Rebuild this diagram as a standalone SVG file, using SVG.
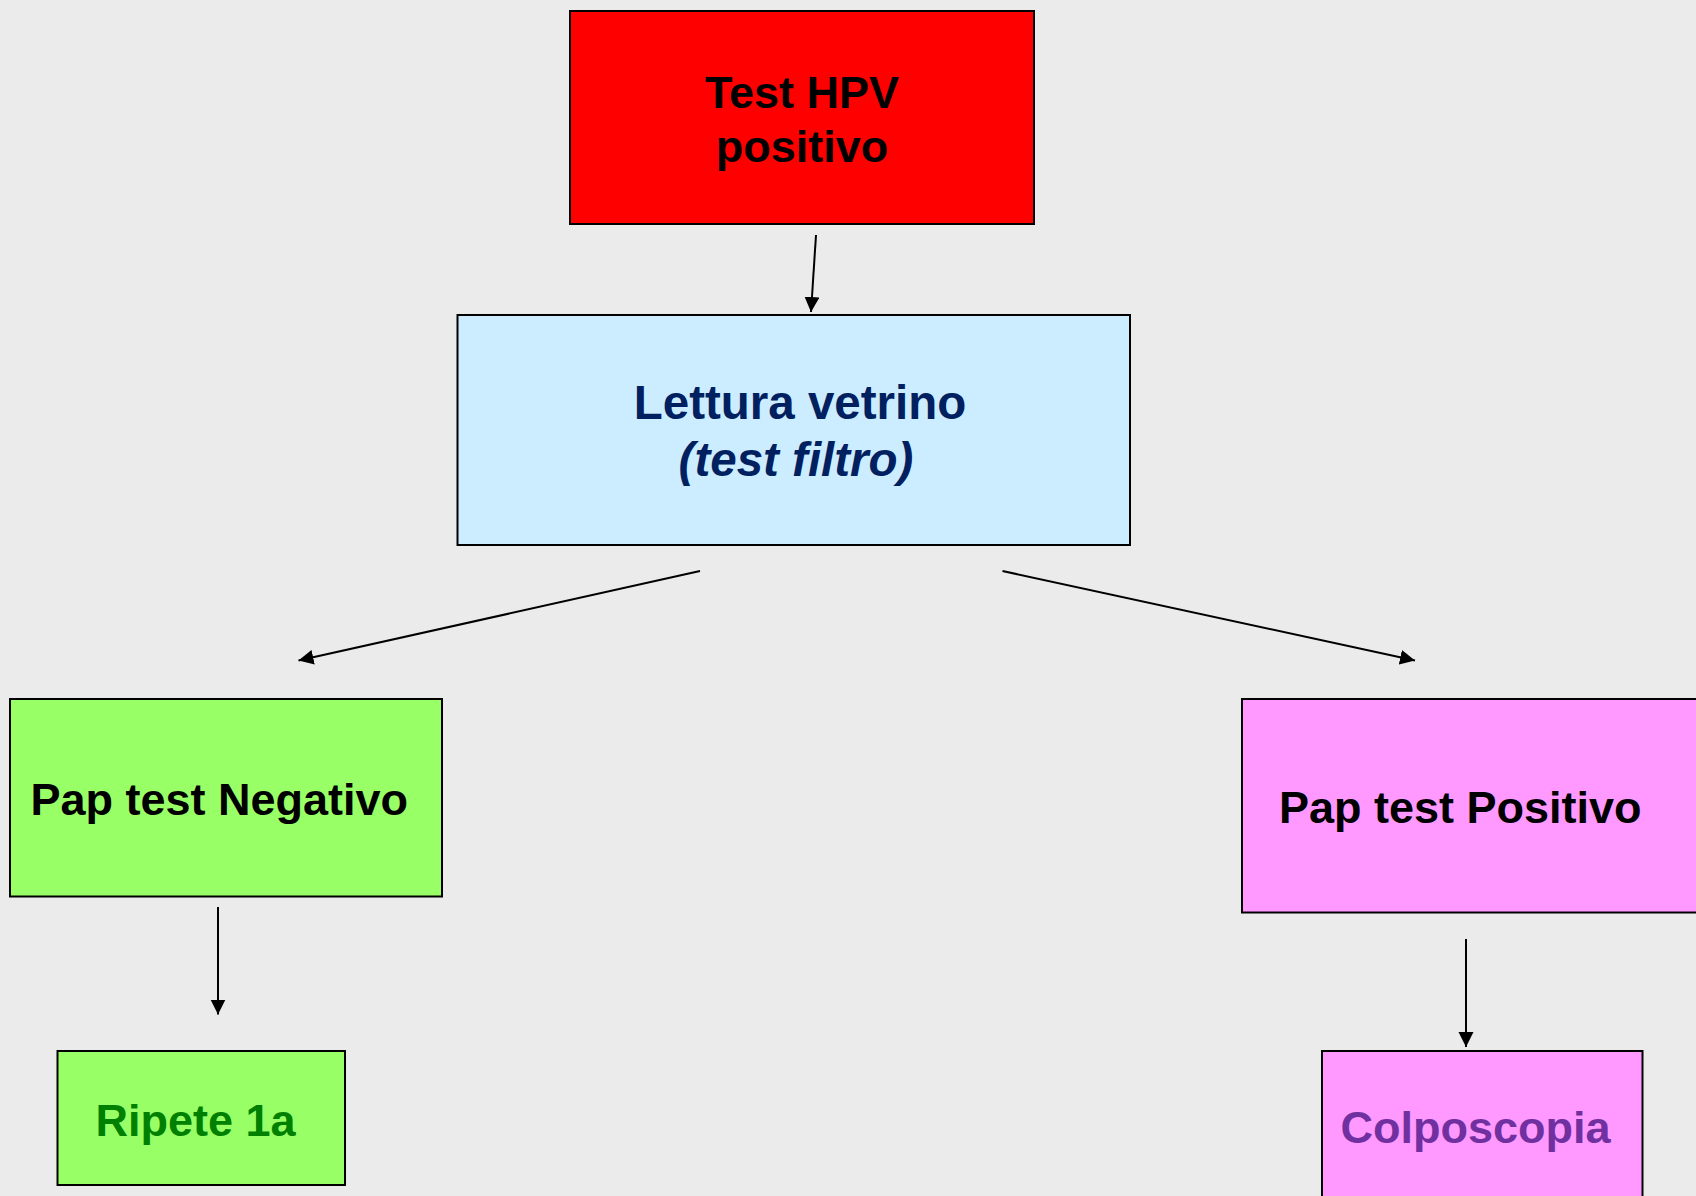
<svg xmlns="http://www.w3.org/2000/svg" width="1696" height="1196" viewBox="0 0 1696 1196">
<style>
.box{stroke:#000;stroke-width:2}
.t{font-family:"Liberation Sans",Arial,sans-serif;font-weight:bold;font-size:45px}
.c{stroke:#000;stroke-width:2;fill:none;marker-end:url(#ah)}
</style>
<defs>
<marker id="ah" markerUnits="userSpaceOnUse" markerWidth="16" markerHeight="16" refX="15" refY="7.5" orient="auto">
<path d="M0,0 L15,7.5 L0,15 z" fill="#000"/>
</marker>
</defs>
<rect width="1696" height="1196" fill="#EBEBEB"/>
<g id="connectors">
<line class="c" x1="816" y1="235" x2="811" y2="312"/>
<line class="c" x1="700" y1="571" x2="298.5" y2="660.5"/>
<line class="c" x1="1002.5" y1="571" x2="1415" y2="660.5"/>
<line class="c" x1="218" y1="907" x2="218" y2="1014.5"/>
<line class="c" x1="1466" y1="939" x2="1466" y2="1047"/>
</g>
<g id="test-hpv">
<rect class="box" x="570" y="11" width="464" height="213" fill="#FF0000"/>
<text class="t" x="802" y="108" text-anchor="middle" fill="#000">Test HPV</text>
<text class="t" x="802" y="162" text-anchor="middle" fill="#000">positivo</text>
</g>
<g id="lettura">
<rect class="box" x="457.5" y="315" width="672.5" height="230" fill="#CCECFF"/>
<text class="t" x="800" y="419" text-anchor="middle" fill="#002060" style="font-size:47.5px">Lettura vetrino</text>
<text class="t" x="796" y="476" text-anchor="middle" fill="#002060" style="font-size:47.5px;font-style:italic">(test filtro)</text>
</g>
<g id="pap-neg">
<rect class="box" x="10" y="699" width="432" height="197.5" fill="#99FF66"/>
<text class="t" x="30.5" y="815" fill="#000">Pap test Negativo</text>
</g>
<g id="ripete">
<rect class="box" x="57.5" y="1051" width="287.5" height="134" fill="#99FF66"/>
<text class="t" x="95.5" y="1135.5" fill="#008000">Ripete 1a</text>
</g>
<g id="pap-pos">
<rect class="box" x="1242" y="699" width="470" height="213.5" fill="#FF99FF"/>
<text class="t" x="1279" y="822.5" fill="#000">Pap test Positivo</text>
</g>
<g id="colposcopia">
<rect class="box" x="1322" y="1051" width="320.5" height="160" fill="#FF99FF"/>
<text class="t" x="1340.5" y="1143" fill="#7030A0">Colposcopia</text>
</g>
</svg>
